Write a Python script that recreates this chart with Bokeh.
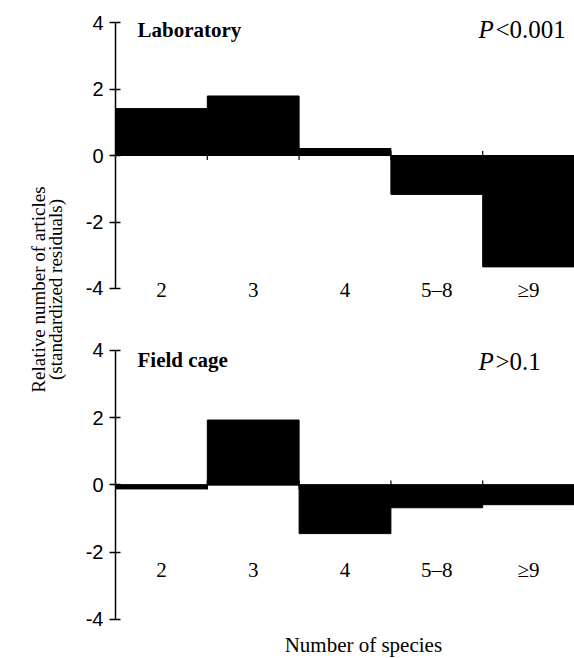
import numpy as np
from bokeh.plotting import figure
from bokeh.models import Range1d, FixedTicker, LinearAxis, Label, ColumnDataSource, Span
from bokeh.layouts import row, column
from bokeh.embed import file_html
from bokeh.resources import INLINE
from bokeh.core.properties import value

# ---- data ----
categories = ["2", "3", "4", "5–8", "≥9"]
lab_values = [1.41, 1.79, 0.21, -1.17, -3.35]
field_values = [-0.12, 1.93, -1.45, -0.68, -0.59]
y_ticks = [-4, -2, 0, 2, 4]
panel_titles = ["Laboratory", "Field cage"]
p_texts = ["<0.001", ">0.1"]
y_title_lines = ["Relative number of articles", "(standardized residuals)"]
x_title = "Number of species"

SERIF = "Liberation Serif"
SANS = "Liberation Sans"
W_LEFT = 72
W_PANEL = 502
TOTAL_H = 658
TOP_H = 318


def make_panel(vals, title, ptext, height, y_start, y_end, border_bottom,
               cat_label_y, title_y, p_y):
    p = figure(width=W_PANEL, height=height,
               x_range=Range1d(0, len(categories)), y_range=Range1d(y_start, y_end),
               output_backend="svg", toolbar_location=None,
               x_axis_type=None, y_axis_type=None,
               min_border_left=43, min_border_right=0,
               min_border_top=0, min_border_bottom=border_bottom)
    p.outline_line_color = None
    p.grid.visible = False
    p.background_fill_color = "white"

    n = len(categories)
    src = ColumnDataSource(dict(x=[i + 0.5 for i in range(n)],
                                top=vals, cat=categories))
    p.vbar(x="x", top="top", bottom=0, width=1.0, source=src,
           fill_color="black", line_color="black", line_width=1)

    # zero line with small ticks at the category boundaries
    p.add_layout(Span(location=0, dimension="width", line_color="black", line_width=1.2))
    p.scatter(x=list(range(1, n)), y=[0] * (n - 1), marker="dash", angle=np.pi / 2,
              size=9, line_color="black", line_width=1.2)

    yax = LinearAxis(ticker=FixedTicker(ticks=y_ticks), bounds=(-4, 4),
                     major_tick_in=5, major_tick_out=6,
                     minor_tick_in=0, minor_tick_out=0,
                     axis_line_color="black", axis_line_width=1.5,
                     major_tick_line_color="black", major_tick_line_width=1.5,
                     major_label_standoff=6,
                     major_label_text_font=SANS,
                     major_label_text_font_size="20px",
                     major_label_text_color="black",
                     major_label_overrides={t: str(t) for t in y_ticks})
    p.add_layout(yax, "left")

    p.text(x="x", y=cat_label_y, text="cat", source=src,
           text_font=value(SERIF), text_font_size="21px",
           text_align="center", text_baseline="middle", text_color="black")

    p.add_layout(Label(x=0.24, y=title_y, text=title, text_font=SERIF,
                       text_font_style="bold", text_font_size="21px",
                       text_baseline="alphabetic", text_color="black"))
    p.add_layout(Label(x=3.954, y=p_y, text="P", text_font=SERIF,
                       text_font_style="italic", text_font_size="25px",
                       text_baseline="alphabetic", text_color="black"))
    p.add_layout(Label(x=3.954, x_offset=17, y=p_y, text=ptext, text_font=SERIF,
                       text_font_size="25px",
                       text_baseline="alphabetic", text_color="black"))
    return p


top = make_panel(lab_values, panel_titles[0], p_texts[0], TOP_H,
                 -4.391, 4.662, 17, -4.06, 3.76, 3.79)
bottom = make_panel(field_values, panel_titles[1], p_texts[1], TOTAL_H - TOP_H,
                    -5.167, 4.952, 0, -2.53, 3.72, 3.66)
bottom.add_layout(Label(x=2.70, y=-4.76, text=x_title, text_font=SERIF,
                        text_font_size="21px", text_align="center",
                        text_baseline="alphabetic", text_color="black"))

left = figure(width=W_LEFT, height=TOTAL_H, x_range=Range1d(0, W_LEFT),
              y_range=Range1d(0, TOTAL_H), output_backend="svg",
              toolbar_location=None, x_axis_type=None, y_axis_type=None,
              min_border=0)
left.outline_line_color = None
left.grid.visible = False
left.text(x=[38, 55], y=[369, 369], text=y_title_lines, angle=np.pi / 2,
          text_font=value(SERIF), text_font_size="19px",
          text_align="center", text_baseline="middle", text_color="black")

layout = row(left, column(top, bottom, spacing=0), spacing=0)

open("out.html", "w").write(file_html(layout, INLINE))
